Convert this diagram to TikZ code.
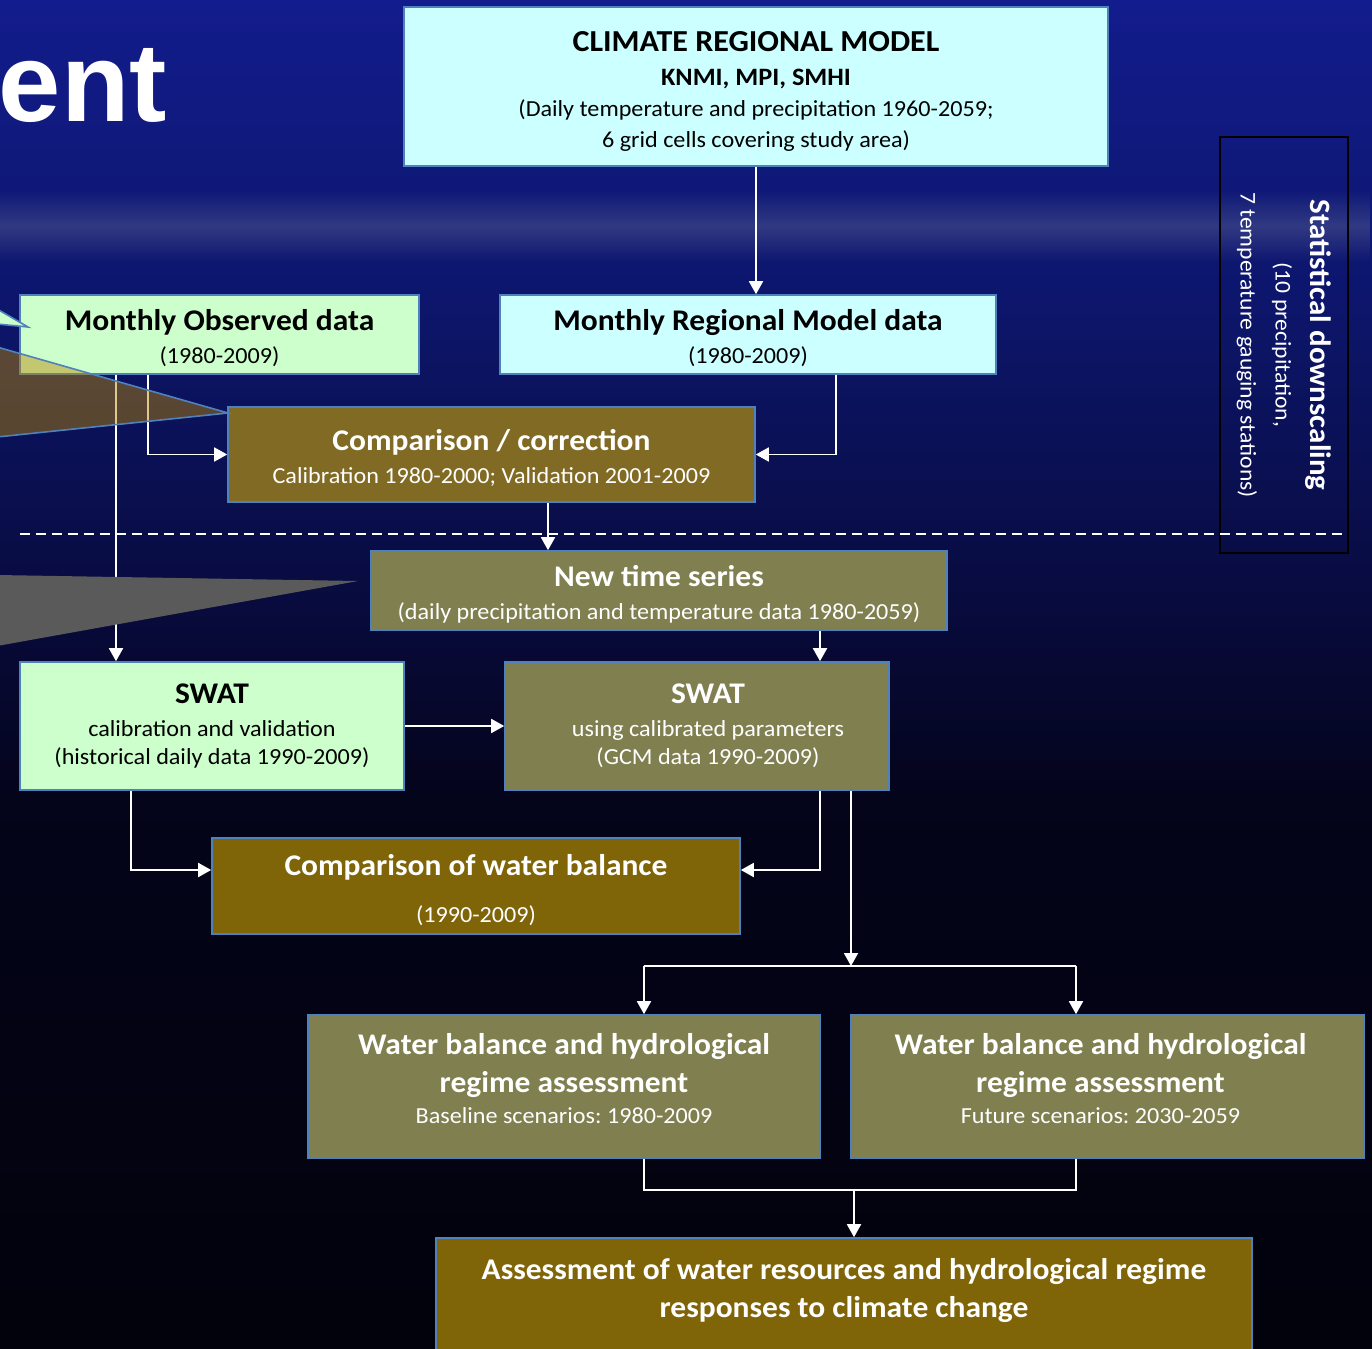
\documentclass[tikz,border=0pt]{standalone}
\usepackage{fontspec}
\setmainfont{Carlito}[FakeStretch=1.05]
\newfontfamily\bigsans{Liberation Sans}
\usetikzlibrary{arrows.meta,fadings}
\definecolor{bgA}{RGB}{18,28,140}
\definecolor{bgB}{RGB}{13,22,108}
\definecolor{bgC}{RGB}{9,13,70}
\definecolor{bgD}{RGB}{4,4,26}
\definecolor{bgE}{RGB}{2,2,12}
\definecolor{streakc}{RGB}{120,128,160}
\definecolor{lcyan}{RGB}{204,255,255}
\definecolor{lgreen}{RGB}{204,255,204}
\definecolor{bordc}{RGB}{79,129,189}
\definecolor{brownA}{RGB}{128,106,36}
\definecolor{brownB}{RGB}{127,101,8}
\definecolor{olivec}{RGB}{127,127,80}
\definecolor{triBrown}{RGB}{185,135,0}
\definecolor{triGray}{RGB}{90,90,90}
\pgfdeclareverticalshading{bgsh}{100bp}{color(0bp)=(bgE); color(25bp)=(bgE); color(45.3bp)=(bgD); color(54.6bp)=(bgC); color(63.9bp)=(bgB); color(75bp)=(bgA); color(100bp)=(bgA)}
\tikzfading[name=bandfade, top color=transparent!100, bottom color=transparent!100, middle color=transparent!0]
\newcommand\hdf{\fontsize{30}{33}\selectfont\bfseries}
\begin{document}
\frenchspacing
\begin{tikzpicture}[x=1pt,y=-1pt,
  box/.style={draw=bordc, line width=1.6pt, inner sep=0pt, align=center},
  cyanbox/.style={box, fill=lcyan, text=black},
  greenbox/.style={box, fill=lgreen, text=black},
  brownbox/.style={box, fill=#1, text=white},
  olivebox/.style={box, fill=olivec, text=white},
  conn/.style={draw=white, line width=1.8pt},
  arr/.style={conn, -{Triangle[length=13pt,width=14pt]}},
  subf/.style={font=\fontsize{23}{#1}\selectfont}
]
\useasboundingbox (0,0) rectangle (1372,1348);
\clip (0,0) rectangle (1372,1348);
% background
\shade[shading=bgsh] (0,0) rectangle (1372,1348);
\fill[streakc, path fading=bandfade, fill opacity=0.33] (0,190) rectangle (1372,262);

% boxes
\node[cyanbox, minimum width=704pt, minimum height=159pt, subf=31, text height=125pt] (crm) at (756,86.5)
  {{\fontsize{30.5}{31}\selectfont\bfseries CLIMATE REGIONAL MODEL}\\[3pt]
   {\fontsize{25}{31}\selectfont\bfseries KNMI, MPI, SMHI}\\
   (Daily temperature and precipitation 1960-2059;\\
   6 grid cells covering study area)};
\node[greenbox, minimum width=399pt, minimum height=79pt, subf=33, text height=62pt] (mo) at (219.5,334.5)
  {{\hdf Monthly Observed data}\\ (1980-2009)};
\node[cyanbox, minimum width=496pt, minimum height=79pt, subf=33, text height=62pt] (mrm) at (748,334.5)
  {{\hdf Monthly Regional Model data}\\ (1980-2009)};
\node[brownbox=brownA, minimum width=527pt, minimum height=95pt, subf=33, text height=60pt] (cc) at (491.5,454.5)
  {{\hdf Comparison / correction}\\ Calibration 1980-2000; Validation 2001-2009};
\node[olivebox, minimum width=576pt, minimum height=79pt, subf=33, text height=61pt] (nts) at (659,590.5)
  {{\hdf New time series}\\ (daily precipitation and temperature data 1980-2059)};
\node[greenbox, minimum width=384pt, minimum height=128pt, subf=28] (swl) at (212,726)
  {{\hdf SWAT}\\[5pt] calibration and validation\\ (historical daily data 1990-2009)};
\node[olivebox, minimum width=384pt, minimum height=128pt, subf=28] (swr) at (697,726)
  {\hspace*{22pt}{\hdf SWAT}\\[5pt] \hspace*{22pt}using calibrated parameters\\ \hspace*{22pt}(GCM data 1990-2009)};
\node[brownbox=brownB, minimum width=528pt, minimum height=96pt, subf=33, text height=77pt] (cwb) at (476,886)
  {{\hdf Comparison of water balance}\\[14pt] (1990-2009)};
\node[olivebox, minimum width=512pt, minimum height=143pt, subf=33, text height=75pt] (wbb) at (564,1086.5)
  {{\hdf Water balance and hydrological}\\[5pt]{\hdf regime assessment}\\[-2pt] Baseline scenarios: 1980-2009};
\node[olivebox, minimum width=513pt, minimum height=143pt, subf=33, text height=75pt] (wbf) at (1107.5,1086.5)
  {\hspace*{-14pt}{\hdf Water balance and hydrological}\\[5pt]\hspace*{-14pt}{\hdf regime assessment}\\[-2pt] \hspace*{-14pt}Future scenarios: 2030-2059};
\node[brownbox=brownB, minimum width=816pt, minimum height=140pt,
  label={[name=asmt, yshift=18pt, align=center, text=white, font=\fontsize{30}{33}\selectfont\bfseries]center:Assessment of water resources and hydrological regime\\[5pt] responses to climate change}]
  (asm) at (844,1308) {};

% statistical downscaling
\node[draw=black, line width=1.5pt, rotate=-90, minimum width=416pt, minimum height=128pt,
  inner sep=0pt, align=center, text=white, font=\fontsize{22.5}{35}\selectfont] (stat) at (1284,345)
  {{\fontsize{29.5}{35}\selectfont\bfseries Statistical downscaling}\\ (10 precipitation,\\ 7 temperature gauging stations)};

% dashed separator
\coordinate (dL) at (20,534);
\coordinate (dR) at (1348,534);
\draw[white, line width=1.5pt, dash pattern=on 10pt off 6pt] (dL) -- (dR);

% connector helper coordinates
\coordinate (xA) at (116,0);
\coordinate (xB) at (148,0);
\coordinate (xC) at (836,0);
\coordinate (xD) at (548,0);
\coordinate (xE) at (820,0);
\coordinate (xF) at (131,0);
\coordinate (xG) at (851,0);
\coordinate (xH) at (644,0);
\coordinate (xI) at (1076,0);
\coordinate (xJ) at (854,0);
\coordinate (yA) at (0,870);
\coordinate (yB) at (0,966);
\coordinate (yC) at (0,1190);

% connectors
\draw[arr] (crm.south) -- (crm.south |- mrm.north);
\draw[arr] (mrm.south -| xC) |- (cc.east);
\draw[arr] (mo.south -| xB) |- (cc.west);
\draw[arr] (mo.south -| xA) -- (swl.north -| xA);
\draw[arr] (cc.south -| xD) -- (nts.north -| xD);
\draw[arr] (nts.south -| xE) -- (swr.north -| xE);
\draw[arr] (swl.east) -- (swr.west);
\draw[arr] (swl.south -| xF) -- (xF |- yA) -- (cwb.west |- yA);
\draw[arr] (swr.south -| xE) -- (xE |- yA) -- (cwb.east |- yA);
\draw[arr] (swr.south -| xG) -- (xG |- yB);
\draw[conn] (xH |- yB) -- (xI |- yB);
\draw[arr] (xH |- yB) -- (wbb.north -| xH);
\draw[arr] (xI |- yB) -- (wbf.north -| xI);
\draw[conn] (wbb.south -| xH) -- (xH |- yC) -- (xI |- yC) -- (wbf.south -| xI);
\draw[arr] (xJ |- yC) -- (asm.north -| xJ);

% callout triangles
\draw[bordc, line width=1.6pt, fill=lgreen] (-3,309) -- (28,327) -- (-3,324) -- cycle;
\draw[bordc, line width=1.6pt, fill=triBrown, fill opacity=0.45] (-3,347) -- (228,413) -- (-3,437) -- cycle;
\fill[triGray] (-3,575) -- (358,581) -- (-3,646) -- cycle;

% title fragment
\node[font=\bigsans\fontsize{112}{120}\selectfont\bfseries, text=white, anchor=base east, inner sep=0pt] (ent) at (167,122) {ent};
\end{tikzpicture}
\end{document}
